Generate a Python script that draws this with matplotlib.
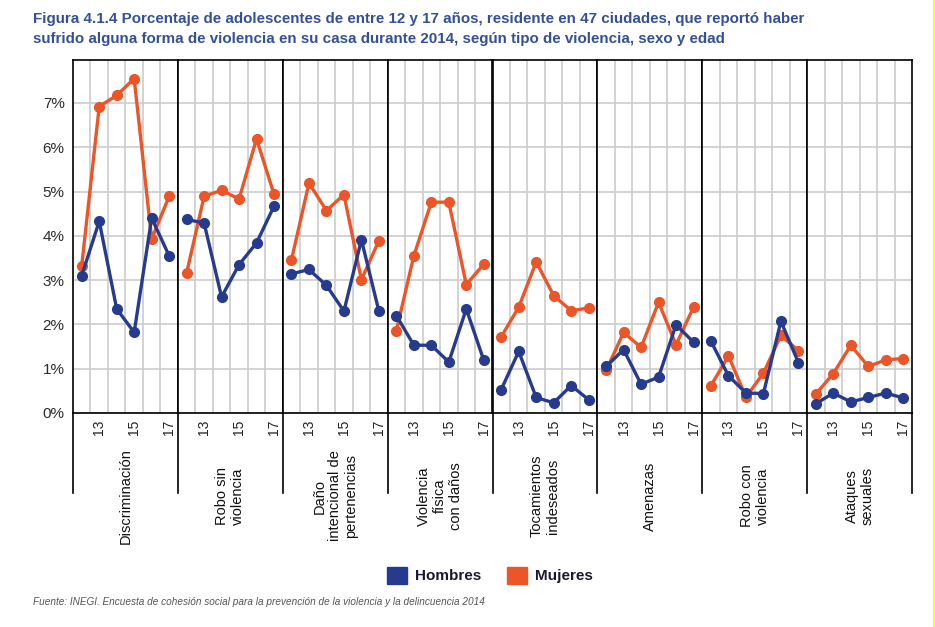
import numpy as np
import matplotlib.pyplot as plt
from matplotlib.lines import Line2D
from matplotlib.patches import Rectangle

plt.rcParams['font.family'] = ['Liberation Sans', 'DejaVu Sans']

categorias = ['Discriminación', 'Robo sin\nviolencia', 'Daño\nintencional de\npertenencias',
              'Violencia\nfísica\ncon daños', 'Tocamientos\nindeseados', 'Amenazas',
              'Robo con\nviolencia', 'Ataques\nsexuales']
edades = [12, 13, 14, 15, 16, 17]
etiquetas_edad = ['13', '15', '17']

hombres = [
    [3.10, 4.33, 2.35, 1.82, 4.40, 3.55],
    [4.37, 4.29, 2.62, 3.35, 3.84, 4.67],
    [3.14, 3.24, 2.88, 2.30, 3.91, 2.30],
    [2.20, 1.53, 1.53, 1.15, 2.35, 1.19],
    [0.53, 1.39, 0.35, 0.23, 0.62, 0.30],
    [1.05, 1.43, 0.65, 0.81, 1.99, 1.60],
    [1.62, 0.84, 0.45, 0.44, 2.07, 1.14],
    [0.21, 0.45, 0.25, 0.35, 0.45, 0.34],
]
mujeres = [
    [3.33, 6.92, 7.17, 7.55, 3.93, 4.89],
    [3.16, 4.89, 5.03, 4.83, 6.19, 4.94],
    [3.46, 5.19, 4.57, 4.93, 3.01, 3.89],
    [1.86, 3.55, 4.76, 4.76, 2.90, 3.36],
    [1.72, 2.39, 3.41, 2.65, 2.31, 2.37],
    [0.96, 1.82, 1.48, 2.50, 1.54, 2.39],
    [0.62, 1.29, 0.36, 0.90, 1.75, 1.41],
    [0.43, 0.89, 1.53, 1.05, 1.20, 1.23],
]

azul = '#263b8e'
naranja = '#ec5527'
W, H = 935, 627

fig = plt.figure(figsize=(W / 100, H / 100), dpi=100)
left, right, top, bottom = 73 / W, 912 / W, 1 - 60 / H, 1 - 413 / H
pw = (right - left) / len(categorias)

x = np.array(edades) - 12 + 0.5
for i, cat in enumerate(categorias):
    ax = fig.add_axes([left + i * pw, bottom, pw, top - bottom])
    ax.set_xlim(0, 6)
    ax.set_ylim(0, 7.97)
    ax.set_xticks([1, 2, 3, 4, 5])
    ax.set_xticklabels([])
    ax.set_xticks([1.5, 3.5, 5.5], minor=True)
    ax.set_xticklabels(etiquetas_edad, minor=True, rotation=90, fontsize=10, color='#222222')
    ax.set_yticks(range(8))
    ax.grid(True, color='#cccccc', lw=1.2)
    ax.set_axisbelow(True)
    ax.tick_params(which='both', length=0)
    ax.tick_params(axis='x', which='minor', pad=5)
    if i == 0:
        ax.set_yticklabels(['{}%'.format(v) for v in range(8)], fontsize=11, color='#2a2a2a')
        ax.tick_params(axis='y', pad=6)
    else:
        ax.set_yticklabels([])
    for s in ax.spines.values():
        s.set_color('black')
        s.set_linewidth(1.2)
    ax.plot(x, mujeres[i], color=naranja, lw=2.4, marker='o', ms=7, zorder=3, clip_on=False)
    ax.plot(x, hombres[i], color=azul, lw=2.4, marker='o', ms=7, zorder=4, clip_on=False)
    fig.text(left + (i + 0.5) * pw, 1 - 496 / H, cat, rotation=90, ha='center', va='center',
             multialignment='center', fontsize=10.5, color='#111111', linespacing=1.15)

# separadores que bajan hasta las etiquetas
for i in range(len(categorias) + 1):
    xs = left + i * pw
    fig.add_artist(Line2D([xs, xs], [1 - 493 / H, bottom], color='black', lw=1.2))

# titulo
fig.text(33 / W, 1 - 12 / H,
         'Figura 4.1.4 Porcentaje de adolescentes de entre 12 y 17 años, residente en 47 ciudades, que reportó haber\n'
         'sufrido alguna forma de violencia en su casa durante 2014, según tipo de violencia, sexo y edad',
         fontweight='bold', fontsize=10.9, color='#34509a', va='top', linespacing=1.5)

# leyenda
for xpx, col, lab in [(387, azul, 'Hombres'), (507, naranja, 'Mujeres')]:
    fig.add_artist(Rectangle((xpx / W, 1 - 584 / H), 20 / W, 17 / H, color=col))
    fig.text((xpx + 28) / W, 1 - 576 / H, lab, fontsize=11, fontweight='bold',
             color='#1a1a2e', va='center')

fig.text(33 / W, 1 - 602 / H,
         'Fuente: INEGI. Encuesta de cohesión social para la prevención de la violencia y la delincuencia 2014',
         fontsize=7.2, style='italic', color='#555555', va='center')

fig.add_artist(Line2D([933.5 / W, 933.5 / W], [0, 1], color='#ffff00', lw=1.5))

fig.savefig('out.png', dpi=100, facecolor='white')
